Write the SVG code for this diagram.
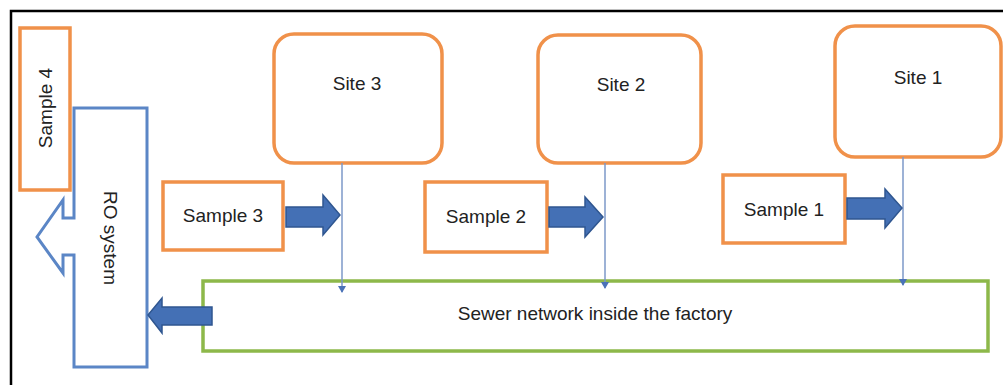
<svg xmlns="http://www.w3.org/2000/svg" width="1003" height="385" viewBox="0 0 1003 385">
<style>
.frame{fill:#fff;stroke:#000;stroke-width:2.5}
.site{fill:#fff;stroke:#F0914A;stroke-width:3.5}
.sample{fill:#fff;stroke:#F0914A;stroke-width:3.5}
.ro{fill:#fff;stroke:#5B86C6;stroke-width:3}
.sewer{fill:#fff;stroke:#8DB84A;stroke-width:3.5}
.fat{fill:#4470B5;stroke:#2F5690;stroke-width:1.5}
.line{stroke:#7C98C8;stroke-width:1.5;fill:none}
text{font-family:"Liberation Sans",Arial,sans-serif;font-size:19px;fill:#222}
</style>
<defs>
<marker id="ah" markerWidth="8" markerHeight="8" refX="6" refY="4" orient="auto" markerUnits="userSpaceOnUse">
<path d="M0,0 L7,4 L0,8 Z" fill="#4A72B8"/>
</marker>
</defs>
<rect width="1003" height="385" fill="#fff"/>
<path d="M11,385 L11,11 L1003,11" class="frame" fill="none"/>

<g id="sample4">
<rect class="sample" x="20" y="28" width="50" height="162"/>
<text transform="translate(52,108) rotate(-90)" text-anchor="middle">Sample 4</text>
</g>

<g id="ro-system">
<path class="ro" d="M74,108 L147,108 L147,367 L74,367 L74,255 L63,255 L63,273 L37,237 L63,200 L63,218 L74,218 Z"/>
<text transform="translate(104,238) rotate(90)" text-anchor="middle">RO system</text>
</g>

<g id="site3">
<rect class="site" x="274" y="34" width="168" height="129" rx="20"/>
<text x="357" y="90" text-anchor="middle">Site 3</text>
</g>
<g id="site2">
<rect class="site" x="538" y="35" width="163" height="128" rx="20"/>
<text x="621" y="91" text-anchor="middle">Site 2</text>
</g>
<g id="site1">
<rect class="site" x="835" y="26" width="166" height="131" rx="20"/>
<text x="918" y="84" text-anchor="middle">Site 1</text>
</g>

<g id="sample3">
<rect class="sample" x="163" y="182" width="120" height="68"/>
<text x="223" y="222" text-anchor="middle">Sample 3</text>
</g>
<g id="sample2">
<rect class="sample" x="425" y="182" width="122" height="70"/>
<text x="486" y="223" text-anchor="middle">Sample 2</text>
</g>
<g id="sample1">
<rect class="sample" x="723" y="175" width="122" height="68"/>
<text x="784" y="216" text-anchor="middle">Sample 1</text>
</g>

<g id="sewer">
<rect class="sewer" x="203" y="281" width="785" height="70"/>
<text x="595" y="320" text-anchor="middle">Sewer network inside the factory</text>
</g>

<g id="connectors">
<line class="line" x1="342" y1="163" x2="342" y2="292" marker-end="url(#ah)"/>
<line class="line" x1="605" y1="163" x2="605" y2="288" marker-end="url(#ah)"/>
<line class="line" x1="903" y1="157" x2="903" y2="285" marker-end="url(#ah)"/>
<path class="fat" d="M286,207 L323,207 L323,195 L340,215 L323,235 L323,227 L286,227 Z"/>
<path class="fat" d="M549,207 L585,207 L585,197 L603,217 L585,237 L585,227 L549,227 Z"/>
<path class="fat" d="M847,198 L885,198 L885,189 L902,208 L885,228 L885,219 L847,219 Z"/>
<path class="fat" d="M212,307 L162,307 L162,298 L148,315 L162,333 L162,325 L212,325 Z"/>
</g>
</svg>
